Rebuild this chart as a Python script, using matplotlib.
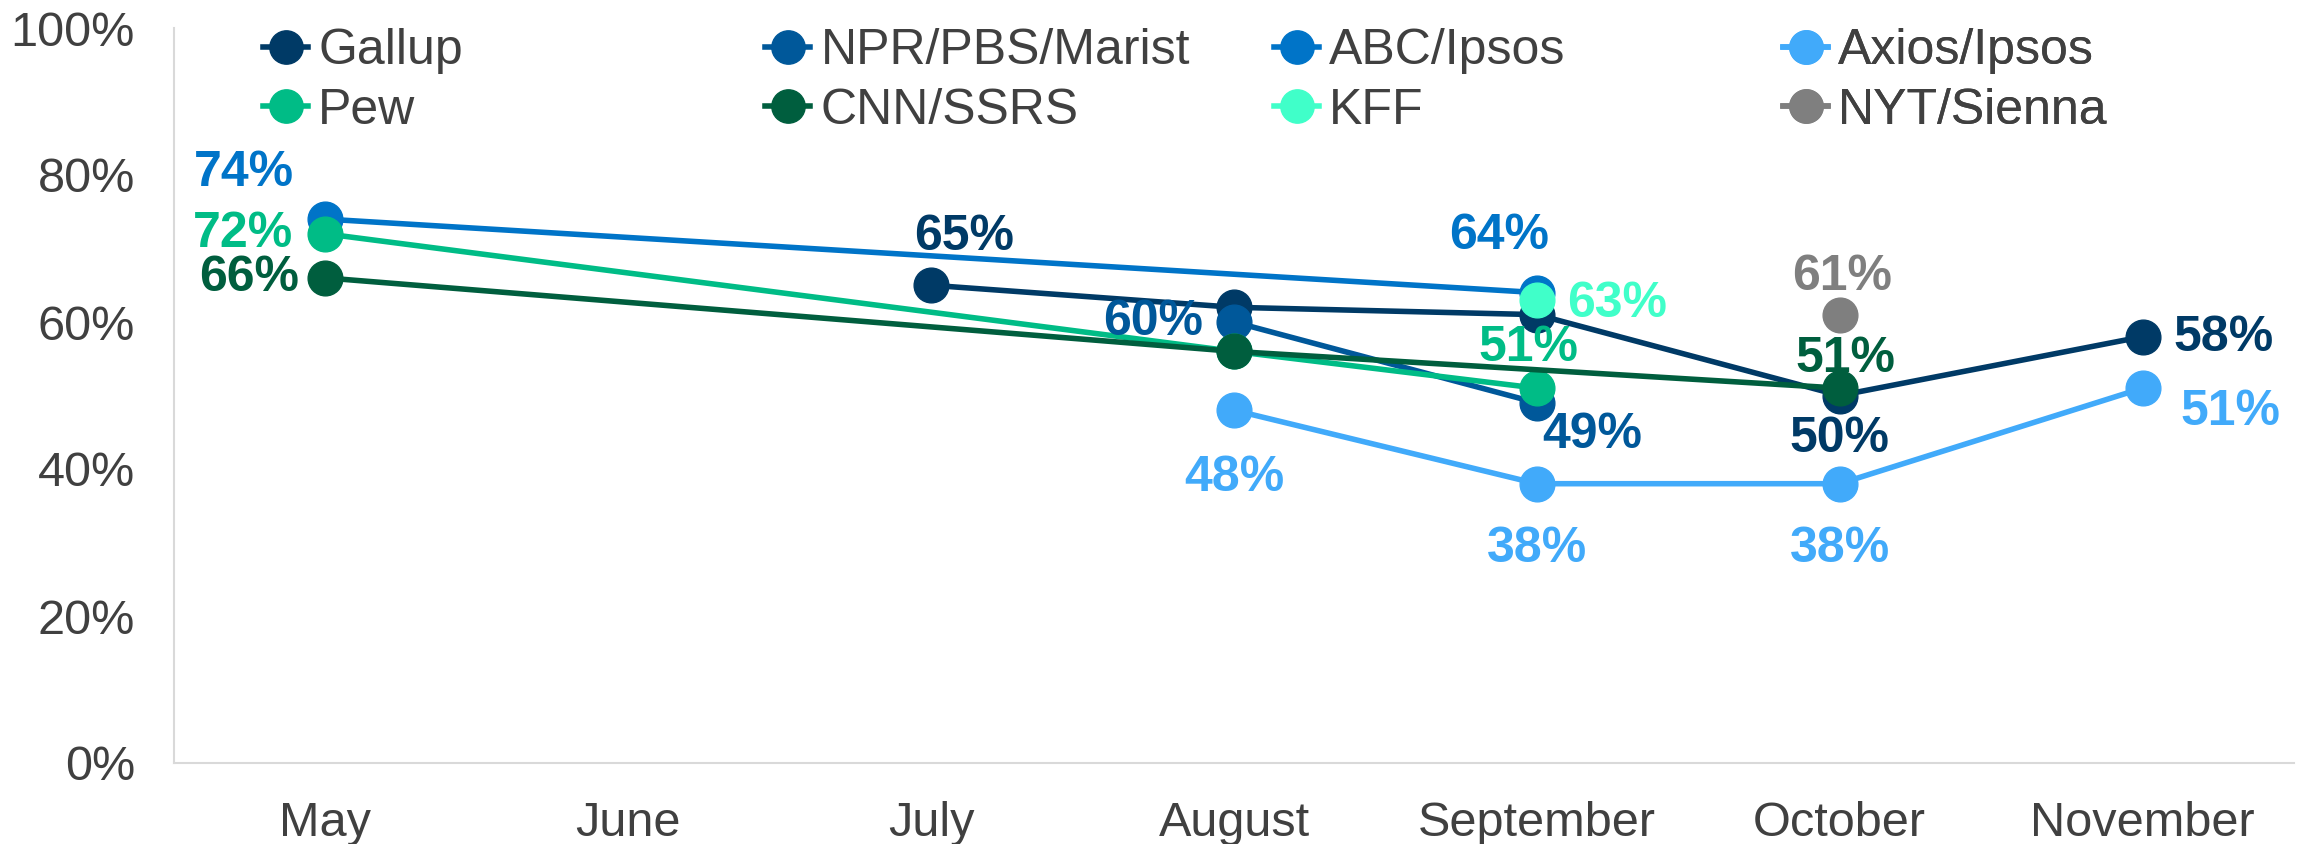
import numpy as np
import matplotlib
matplotlib.use('Agg')
import matplotlib.pyplot as plt
from matplotlib.lines import Line2D
from matplotlib.ticker import PercentFormatter

plt.rcParams['font.family'] = ['Liberation Sans', 'DejaVu Sans']
FS = 36

# -----------------------------------------------------------------------------
# data
# -----------------------------------------------------------------------------

MONTHS = ["May", "June", "July", "August", "September", "October", "November"]
nan = np.nan

SERIES_NAMES = ["Gallup", "NPR/PBS/Marist", "ABC/Ipsos", "Axios/Ipsos",
                "Pew", "CNN/SSRS", "KFF", "NYT/Sienna"]

GALLUP = [nan, nan, 65, 62, 61, 50, 58]
NPR = [nan, nan, nan, 60, 49, nan, nan]
ABC = [74, nan, nan, nan, 64, nan, nan]
AXIOS = [nan, nan, nan, 48, 38, 38, 51]
PEW = [72, nan, nan, 56, 51, nan, nan]
CNN = [66, nan, nan, 56, nan, 51, nan]
KFF = [nan, nan, nan, nan, 63, nan, nan]
NYT = [nan, nan, nan, nan, nan, 61, nan]

VALUES = [GALLUP, NPR, ABC, AXIOS, PEW, CNN, KFF, NYT]

COLORS = ["#003A66", "#00589A", "#0074C8", "#41AAFA",
          "#00BC86", "#005E3E", "#40FFC9", "#7F7F7F"]

# label placement per (series, month index): (dx, dy) in points, ha
LABEL_POS = {
    ("ABC/Ipsos", 0): (-59, 33, "center"),
    ("Pew", 0): (-23, 0, "right"),
    ("CNN/SSRS", 0): (-19, 0, "right"),
    ("Gallup", 2): (24, 35, "center"),
    ("NPR/PBS/Marist", 3): (-22, 0, "right"),
    ("ABC/Ipsos", 4): (-27, 41, "center"),
    ("KFF", 4): (22, -3, "left"),
    ("Pew", 4): (-6, 29, "center"),
    ("NPR/PBS/Marist", 4): (40, -23, "center"),
    ("Axios/Ipsos", 3): (0, -49, "center"),
    ("Axios/Ipsos", 4): (0, -47, "center"),
    ("NYT/Sienna", 5): (2, 27, "center"),
    ("CNN/SSRS", 5): (4, 21, "center"),
    ("Gallup", 5): (0, -31, "center"),
    ("Axios/Ipsos", 5): (0, -47, "center"),
    ("Gallup", 6): (22, -1, "left"),
    ("Axios/Ipsos", 6): (27, -17, "left"),
}


def main():
    fig = plt.figure(figsize=(23.13, 8.44), dpi=100)
    ax = fig.add_axes([174 / 2313, (844 - 763) / 844, 2120 / 2313, 735 / 844])

    x = np.arange(len(MONTHS))
    handles = []
    for name, vals, col in zip(SERIES_NAMES, VALUES, COLORS):
        v = np.array(vals, dtype=float)
        m = ~np.isnan(v)
        ax.plot(x[m], v[m], color=col, lw=4, marker='o', markersize=25,
                solid_capstyle='round')
        handles.append(Line2D([0], [0], color=col, lw=4, marker='o', markersize=24))
        for i in np.where(m)[0]:
            if (name, i) not in LABEL_POS:
                continue
            dx, dy, ha = LABEL_POS[(name, i)]
            ax.annotate(f"{int(v[i])}%", (x[i], v[i]), xytext=(dx, dy),
                        textcoords='offset points', ha=ha, va='center',
                        fontsize=FS, fontweight='bold', color=col)

    ax.set_xlim(-0.5, len(MONTHS) - 0.5)
    ax.set_ylim(0, 100)
    ax.set_xticks(x)
    ax.set_xticklabels(MONTHS)
    ax.set_yticks(range(0, 101, 20))
    ax.yaxis.set_major_formatter(PercentFormatter(decimals=0))
    ax.tick_params(axis='both', length=0, labelsize=FS - 1, labelcolor='#404040')
    ax.tick_params(axis='x', pad=27)
    ax.tick_params(axis='y', pad=28)
    for s in ('top', 'right'):
        ax.spines[s].set_visible(False)
    for s in ('left', 'bottom'):
        ax.spines[s].set_color('#D9D9D9')
        ax.spines[s].set_linewidth(1.5)

    # legend: 4 fixed-width columns, 2 rows
    col_x = [0.042, 0.279, 0.519, 0.759]
    for c in range(4):
        idx = [c, c + 4]
        leg = ax.legend([handles[i] for i in idx], [SERIES_NAMES[i] for i in idx],
                        loc='upper left', bbox_to_anchor=(col_x[c], 1.0),
                        frameon=False, fontsize=FS, handlelength=0.9,
                        handletextpad=0.2, borderpad=0, borderaxespad=0,
                        labelspacing=0.27, labelcolor='#404040')
        ax.add_artist(leg)

    fig.savefig("out.png", dpi=100)
    plt.close(fig)


if __name__ == "__main__":
    main()
